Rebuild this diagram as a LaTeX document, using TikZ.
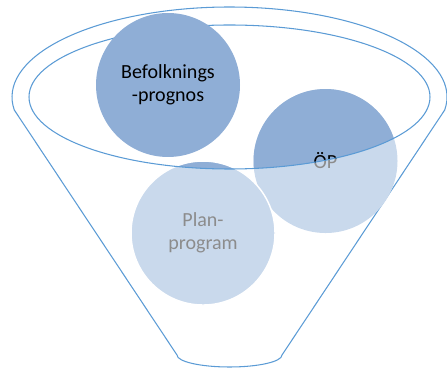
\documentclass[tikz,border=0pt]{standalone}
\usepackage{fontspec}
\setmainfont{Carlito}
\definecolor{funnelblue}{RGB}{91,155,213}
\definecolor{darkfill}{RGB}{143,174,214}
\definecolor{lightfill}{RGB}{201,217,236}
\definecolor{textgray}{RGB}{140,140,140}
\tikzset{bubble/.style={circle,minimum size=48mm,inner sep=0pt,align=center,
                        font=\fontsize{19pt}{21.7pt}\selectfont},
         lightbubble/.style={bubble,fill=lightfill,text=textgray},
         darkbubble/.style={bubble,fill=darkfill,text=black},
         rim/.style={draw=white,line width=1.4pt},
         funnel/.style={draw=funnelblue,line width=1pt},
        }

\begin{document}
\begin{tikzpicture}
        \useasboundingbox (0,0) rectangle (14.9,-12.267);
        \coordinate(top)at(7.65,-3.233);
        \coordinate(spout)at(5.9,-11.833);

        % outer funnel
        \draw[funnel](top)++(-8.3:7.25 and 3)
            arc[start angle=-8.3,end angle=188.3,x radius=7.25,y radius=3]
            --(spout)arc[start angle=180,end angle=360,x radius=1.75,y radius=0.4]--cycle;

        \node[lightbubble](op)at(10.85,-5.367){ÖP};
        \node[lightbubble,rim](plan)at(6.767,-7.767){Plan-\\program};

        % parts inside the rim are darker
        \begin{scope}
            \clip(top)ellipse[x radius=6.683,y radius=2.4];
            \node[darkbubble](op-in)at(op.center){ÖP};
            \node[darkbubble,rim](plan-in)at(plan.center){Plan-\\program};
        \end{scope}

        \draw[funnel](top)ellipse[x radius=6.683,y radius=2.4];

        \node[darkbubble](prognos)at(5.6,-2.833){Befolknings\\-prognos};
    \end{tikzpicture}
\end{document}
